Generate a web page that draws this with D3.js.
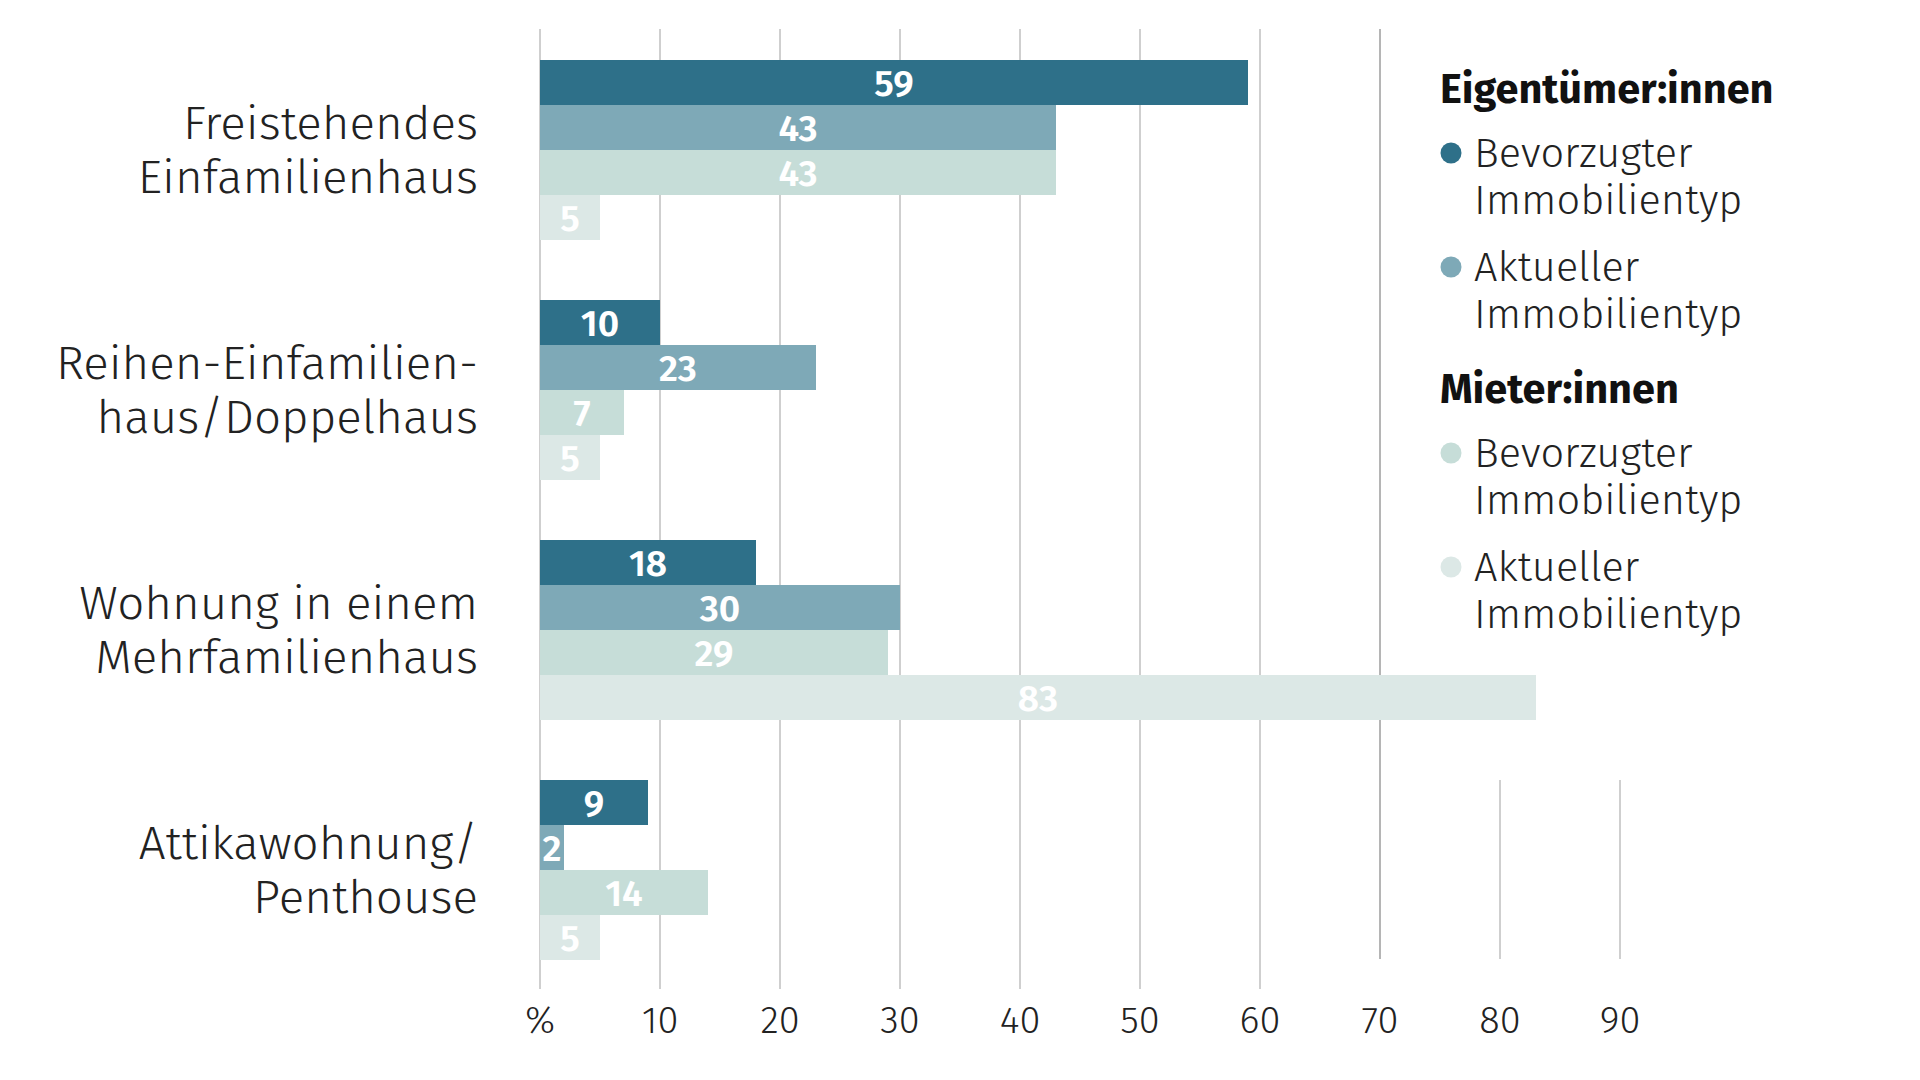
<!DOCTYPE html>
<html><head><meta charset="utf-8">
<script src="https://cdn.jsdelivr.net/npm/d3@7"></script>
<style>
html,body{margin:0;padding:0;background:#fff;}
svg{display:block;font-family:"Fira Sans",Roboto,"Noto Sans",sans-serif;}
</style></head>
<body><svg id="c" width="1920" height="1080"></svg>
<script>
const categories = [
  ["Freistehendes","Einfamilienhaus"],
  ["Reihen-Einfamilien-","haus/Doppelhaus"],
  ["Wohnung in einem","Mehrfamilienhaus"],
  ["Attikawohnung/","Penthouse"]
];
const seriesNames = ["Eig. bevorzugt","Eig. aktuell","Miet. bevorzugt","Miet. aktuell"];
const eigBevorzugt = [59,10,18,9];
const eigAktuell   = [43,23,30,2];
const mietBevorzugt= [43,7,29,14];
const mietAktuell  = [5,5,83,5];
const seriesValues = [eigBevorzugt,eigAktuell,mietBevorzugt,mietAktuell];
const colors = ["#2e7089","#7ea9b7","#c6ddd8","#dce8e6"];
const ticks = [0,10,20,30,40,50,60,70,80,90];
const tickLabels = ["%","10","20","30","40","50","60","70","80","90"];
const legendGroups = [
  {title:"Eigentümer:innen", items:[["Bevorzugter","Immobilientyp"],["Aktueller","Immobilientyp"]]},
  {title:"Mieter:innen", items:[["Bevorzugter","Immobilientyp"],["Aktueller","Immobilientyp"]]}
];

const svg = d3.select("#c");
const x = d3.scaleLinear().domain([0,90]).range([540,1620]);
const y = d3.scaleBand().domain(d3.range(categories.length)).range([60,960]).paddingInner(0.25).paddingOuter(0);
const ys = d3.scaleBand().domain(d3.range(seriesNames.length)).range([0,y.bandwidth()]);

// gridlines
const grid = svg.append("g");
ticks.forEach(t=>{
  let y1 = 29, y2 = 989, col = "#cfcfcf";
  if (t===70){ y2 = 959; col="#b5b5b5"; }
  if (t>70){ y1 = 780; y2 = 959; }
  grid.append("line").attr("x1",x(t)).attr("x2",x(t)).attr("y1",y1).attr("y2",y2)
    .attr("stroke",col).attr("stroke-width",2);
});

// tick labels
svg.append("g").selectAll("text").data(ticks).join("text")
  .attr("x",d=>x(d)).attr("y",1033).attr("text-anchor","middle")
  .attr("font-size",38).attr("font-weight",300).attr("fill","#222")
  .text((d,i)=>tickLabels[i]);

// bars
const groups = svg.append("g").selectAll("g").data(categories).join("g")
  .attr("transform",(d,i)=>`translate(0,${y(i)})`);
groups.each(function(cat,ci){
  const g = d3.select(this);
  seriesValues.forEach((vals,si)=>{
    const v = vals[ci];
    g.append("rect").attr("x",x(0)).attr("y",ys(si)).attr("width",x(v)-x(0)).attr("height",ys.bandwidth())
      .attr("fill",colors[si]);
    g.append("text").attr("x",(x(0)+x(v))/2).attr("y",ys(si)+ys.bandwidth()/2+13)
      .attr("text-anchor","middle").attr("font-size",37).attr("font-weight",600).attr("fill","#fff")
      .text(v);
  });
  // category label
  g.append("text").attr("x",478).attr("y",y.bandwidth()/2-11).attr("text-anchor","end")
    .attr("font-size",47.5).attr("font-weight",300).attr("fill","#222").text(cat[0]);
  g.append("text").attr("x",478).attr("y",y.bandwidth()/2+43).attr("text-anchor","end")
    .attr("font-size",47.5).attr("font-weight",300).attr("fill","#222").text(cat[1]);
});

// legend
const lg = svg.append("g");
const titleY = [103,403];
const itemY = [[167,281],[467,581]];
let si = 0;
legendGroups.forEach((grp,gi)=>{
  lg.append("text").attr("x",1440).attr("y",titleY[gi]).attr("font-size",41.5).attr("font-weight",700)
    .attr("fill","#111").text(grp.title);
  grp.items.forEach((it,ii)=>{
    const by = itemY[gi][ii];
    lg.append("circle").attr("cx",1451).attr("cy",by-14).attr("r",10.5).attr("fill",colors[si]);
    lg.append("text").attr("x",1474).attr("y",by).attr("font-size",41.5).attr("font-weight",300)
      .attr("fill","#222").text(it[0]);
    lg.append("text").attr("x",1474).attr("y",by+47).attr("font-size",41.5).attr("font-weight",300)
      .attr("fill","#222").text(it[1]);
    si++;
  });
});
</script></body></html>
